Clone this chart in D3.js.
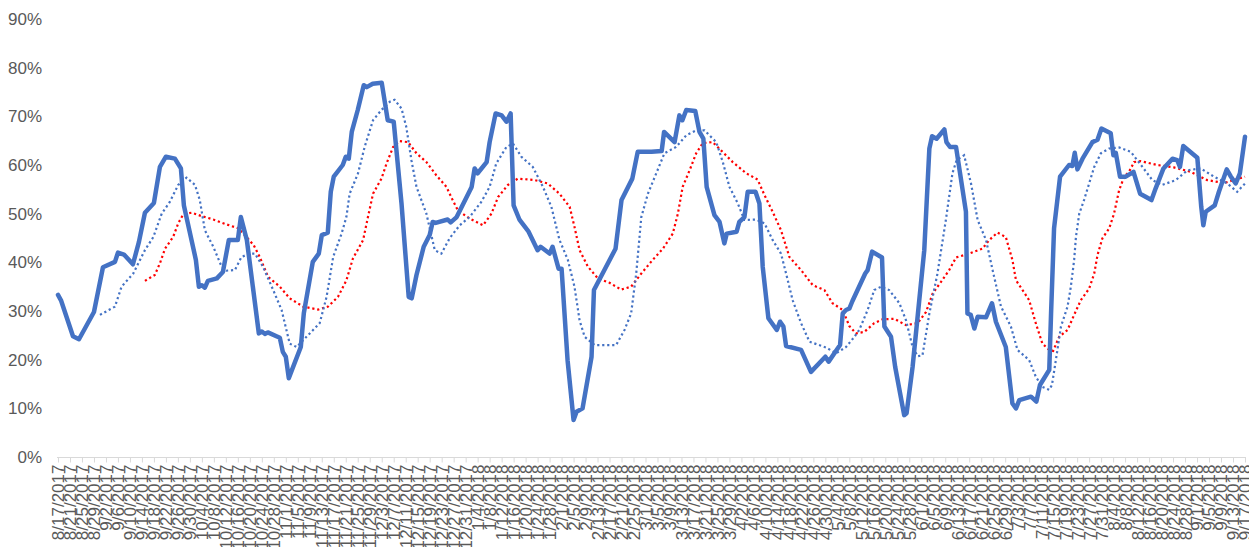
<!DOCTYPE html>
<html>
<head>
<meta charset="utf-8">
<script src="https://cdn.jsdelivr.net/npm/d3@7"></script>
<style>
  html, body { margin: 0; padding: 0; background: #fff; }
  svg { display: block; }
</style>
</head>
<body>
<svg id="chart" width="1249" height="547"></svg>
<script>
// ---------- DATA ----------
// x positions are day offsets from the first date (8/17/2017)
const tickLabels = [
  "8/17/2017","8/21/2017","8/25/2017","8/29/2017",
  "9/2/2017","9/6/2017","9/10/2017","9/14/2017","9/18/2017","9/22/2017","9/26/2017","9/30/2017",
  "10/4/2017","10/8/2017","10/12/2017","10/16/2017","10/20/2017","10/24/2017","10/28/2017",
  "11/1/2017","11/5/2017","11/9/2017","11/13/2017","11/17/2017","11/21/2017","11/25/2017","11/29/2017",
  "12/3/2017","12/7/2017","12/11/2017","12/15/2017","12/19/2017","12/23/2017","12/27/2017","12/31/2017",
  "1/4/2018","1/8/2018","1/12/2018","1/16/2018","1/20/2018","1/24/2018","1/28/2018",
  "2/1/2018","2/5/2018","2/9/2018","2/13/2018","2/17/2018","2/21/2018","2/25/2018",
  "3/1/2018","3/5/2018","3/9/2018","3/13/2018","3/17/2018","3/21/2018","3/25/2018","3/29/2018",
  "4/2/2018","4/6/2018","4/10/2018","4/14/2018","4/18/2018","4/22/2018","4/26/2018","4/30/2018",
  "5/4/2018","5/8/2018","5/12/2018","5/16/2018","5/20/2018","5/24/2018","5/28/2018",
  "6/1/2018","6/5/2018","6/9/2018","6/13/2018","6/17/2018","6/21/2018","6/25/2018","6/29/2018",
  "7/3/2018","7/7/2018","7/11/2018","7/15/2018","7/19/2018","7/23/2018","7/27/2018","7/31/2018",
  "8/4/2018","8/8/2018","8/12/2018","8/16/2018","8/20/2018","8/24/2018","8/28/2018",
  "9/1/2018","9/5/2018","9/9/2018","9/13/2018","9/17/2018"
];
const tickStepDays = 4;
const yTickValues = [0, 10, 20, 30, 40, 50, 60, 70, 80, 90];

const dailyDay = [0,1,5,7,12,15,19,20,22,25,27,29,32,34,36,39,41,42,46,47,48,49,50,53,55,57,60,61,63,
  67,68,69,70,74,75,76,77,81,82,85,87,88,90,91,92,95,96,97,98,100,102,103,105,108,110,112,114.6,117,118,119.6,
  122,124,125,126,130,131,133,138,139,140,143,144,146,148,149.6,151,152,154,157,160,161,164,165,167,168,
  170,172,173,175,178,178.8,186,188,191.6,193.4,194,198,201.4,202.2,205.7,207.3,208.3,209.6,212.6,214,215.3,216.4,
  219,220.7,222.3,223.1,226.4,227.3,229,230.1,232.7,234,235.1,237,239.8,240.9,242,242.9,247.9,251.2,256,257.1,
  260.9,261.8,262.9,264,265,269.3,270.1,271.6,274.9,275.7,277.9,279.3,282.3,283.1,285.1,289,290.7,291.6,293.1,
  295.7,296.4,297.6,299.6,302.9,303.4,304.5,305.7,306.8,309.6,311.6,312.9,316.2,318.4,319.6,320.7,324.6,326.4,
  327.6,330.7,331.3,332.3,334.3,337.3,338.4,339.2,340.1,341.8,345.1,346.8,348.1,351.2,352.1,352.9,354.3,356.2,
  358.8,361,364.8,366.2,368.8,371.8,373.4,374.3,375.4,380.1,381.4,382.1,382.9,385.9,387.3,389.9,391.2,392.9,
  394.3,396];
const dailyVal = [33.3,32.2,24.8,24.2,29.8,39.0,40.1,42.0,41.6,39.6,44.2,50.2,52.2,59.6,61.7,61.3,59.3,51.7,40.5,35.0,35.3,34.8,36.2,36.7,38.0,44.6,44.6,49.3,44.6,
  25.4,25.8,25.3,25.6,24.5,21.6,20.6,16.2,22.6,29.5,40.1,41.8,45.6,46.1,54.5,57.6,60.0,61.7,61.3,66.8,71.3,76.4,76.0,76.7,76.9,69.2,68.9,52.1,32.9,32.6,37.4,
  43.2,45.6,48.3,48.1,48.8,48.2,49.3,55.5,59.3,58.3,60.6,64.7,70.6,70.2,68.9,70.6,51.7,48.7,46.3,42.5,43.2,41.8,43.2,38.7,38.7,
  19.9,7.6,9.3,10.0,20.6,34.3,42.8,52.8,57.2,62.7,62.7,62.7,62.9,66.8,64.7,70.2,69.2,71.3,71.1,66.8,65.4,55.5,
  49.7,48.3,43.9,45.9,46.3,48.3,49.3,54.5,54.5,52.1,39.1,28.5,26.1,27.8,26.8,22.8,22.0,17.5,20.6,19.6,
  23.0,29.5,30.2,30.5,32.0,37.7,38.4,42.2,41.0,26.8,24.7,18.5,8.6,9.0,18.5,42.5,63.4,65.9,65.4,
  67.3,64.7,63.7,63.7,50.4,29.5,29.2,26.4,28.8,28.7,31.6,27.8,22.6,11.0,10.0,11.7,12.4,11.4,
  14.8,17.9,29.5,47.0,57.6,60.0,59.8,62.5,59.1,61.3,64.7,65.2,67.5,66.5,62.0,62.5,57.6,57.6,
  58.6,54.1,52.8,55.2,59.3,61.3,61.0,59.6,63.9,61.5,51.4,47.6,50.4,51.7,54.5,59.1,57.7,56.2,
  58.3,65.8];

const shortAvgDay = [14,19,21.2,25.1,26.8,29,31.8,34.6,37.3,40.1,42.9,45.7,47.3,49,51.8,54.6,56.2,59,61.2,64,65.7,68.4,71.8,74.6,77.3,79.6,
  82.9,87.3,89.6,91.8,94.6,96.2,97.3,100.1,102.3,105.1,107.9,110.7,112.3,114.6,116.2,117.9,119.6,122.9,125.7,127.9,130.7,134,137.3,141.2,
  144,146.2,149.6,151.8,154.6,158.4,161.8,164.6,167.3,170.1,172.3,174,175.7,179,186.2,189,191.2,192.9,194.6,196.8,199.6,202.3,206.2,209.6,
  212.9,215.7,219.6,221.8,224,226.8,229,232.9,235.7,238.4,241.2,242.9,245.1,247.9,250.7,256.2,259.6,262.9,265.7,267.3,270.1,272.3,274.6,
  277.3,280.7,282.9,285.1,286.8,288.4,290.7,293.4,296.2,298.4,299.8,302.3,304.6,306.8,309.6,311.8,314.6,317.9,320.1,324,326.2,328.4,330.7,
  331.6,332.9,334.6,336.8,337.9,339,339.6,340.7,342.3,344,345.7,347.9,350.7,354,357.9,361.8,365.1,368.4,372.9,376.8,381.2,385.7,390.1,393.4,396];
const shortAvgVal = [29.2,30.9,35,37.7,39.8,42.5,45.2,50,52.4,55.9,57.4,55.9,52.8,46.6,43.2,39.1,38.3,38.4,41.1,41.8,41.8,39.1,34.3,30.2,23.3,22.6,
  24.7,27.5,32.9,41.1,45.9,49.3,54.1,58.3,63.7,69.2,71.3,73,73.4,71.6,67.8,61,55.5,50,42.5,41.8,45,47.6,49.3,52.4,
  55.5,60.3,63.7,64.4,61.7,59.6,55.5,51.4,44.6,40.5,35,28.1,24.7,23,23,26.1,29.5,37.7,49.3,54.1,58.3,62.4,63.7,66.1,
  67.1,67.1,64.7,60.6,55.5,52.1,48.7,48.8,48,44.6,41.8,37.7,32.2,27.5,23.7,22.5,21.3,22.6,24.7,26.1,30.2,34.3,35,
  34.3,31.6,28.1,22.6,20.7,20.9,29.5,37.7,48.7,58.3,61,62,56.2,48.7,44.6,38.4,30.9,26.8,22,19.9,16.5,14.4,13.8,
  14.8,19.9,26.8,30.9,35,40.5,45.2,50,52.8,56.2,59.6,62.4,63.4,63.6,62.7,59.6,56.9,55.9,56.9,58.9,59.3,57.6,56.2,54.5,56.2];

const longAvgDay = [29,32.3,34,35.7,38.4,40.1,41.8,44.6,47.9,51.8,56.2,60.1,62.9,65.3,67.3,70.1,74,77.3,81.8,86.8,90.1,93.4,96.2,98.4,
  101.8,103.4,105.1,107.9,109.6,111.8,114,116.8,119.6,122.9,126.2,129.6,131.5,133.4,137.3,141.8,144.6,146.8,150.1,153.4,159,163.4,167.3,
  170.7,172.3,174,176.8,180.1,184,187.9,191.2,194.6,198.4,201.8,205.1,206.8,208.4,210.7,212.9,215.1,218.4,221.2,225.1,229.6,233.4,235.7,
  238.4,241.2,244,247.9,251.8,255.7,258.4,261.8,264,266.2,269,272.3,275.1,279,282.9,286.8,289.6,291.8,294.6,297.3,299.6,304,308.4,310.7,
  313.4,316.2,318.4,319.6,321.8,324,326.2,328.4,330.7,332,334,336.8,339,341.2,344,345.7,346.8,348.4,350.7,352.3,354,355.7,357.3,359,
  361.2,366.8,372.3,377.9,383.4,389,392.3,396];
const longAvgVal = [36.2,37.4,39.8,42.8,45.2,48,49.9,50.2,49.5,48.8,47.8,47,45.2,43.5,41.1,37,35,32.6,30.9,30.3,30.9,32.9,36.3,40.8,
  44.6,49.3,54.1,57.2,60.3,63.7,64.9,64.7,62.4,60.6,57.9,55.5,53,50.7,49,47.6,50,53.4,55.9,57.2,56.9,56.2,54.1,
  51.4,47.3,42.5,39.1,36.7,35.8,34.4,35,37.7,40.5,42.8,45.9,50,55.5,58.9,62.4,64.5,64.7,63,60.6,58.3,57,53.8,
  50.4,46.6,41.1,38.4,35.3,34.3,31.6,30.2,26.9,25.4,25.7,27.5,28.3,28.4,27.1,27.5,29.8,33.6,36,38.4,41,41.8,42.8,44.6,
  46.1,45.2,40.5,36.3,34.3,32.2,27.5,23.3,22,21.8,24.7,26.1,29.2,32.2,34.6,37.7,41.5,44.9,47,50,54.8,57.6,58.6,60.6,
  60.8,60,59.5,58.6,56.9,56.3,56.9,57.6];

// ---------- CHART ----------
const svg = d3.select("#chart");
const font = "'Liberation Sans', Arial, sans-serif";
const totalDays = (tickLabels.length - 1) * tickStepDays;

const x = d3.scaleLinear().domain([0, totalDays]).range([58, 1245]);
const y = d3.scaleLinear().domain([0, 90]).range([457, 19]);

// y-axis labels (no axis line, no gridlines)
const yAxis = d3.axisLeft(y).tickValues(yTickValues).tickFormat(d => d + "%").tickSize(0).tickPadding(0);
const gy = svg.append("g").attr("transform", "translate(42,0)").call(yAxis);
gy.select(".domain").remove();
gy.selectAll("text")
  .attr("font-family", font).attr("font-size", 17).attr("fill", "#595959");

// x-axis
const tickDays = tickLabels.map((_, i) => i * tickStepDays);
const xAxis = d3.axisBottom(x).tickValues(tickDays)
  .tickFormat((d, i) => tickLabels[i]).tickSize(5).tickSizeOuter(0).tickPadding(6);
const gx = svg.append("g").attr("transform", "translate(0,457.5)").call(xAxis);
gx.select(".domain").attr("stroke", "#d9d9d9").attr("d", `M${x(0) - 1},0H${x(totalDays) + 1}`);
gx.selectAll(".tick line").attr("stroke", "#d9d9d9");
gx.selectAll(".tick text")
  .attr("font-family", font).attr("font-size", 17).attr("fill", "#595959")
  .attr("transform", "rotate(-90)")
  .attr("text-anchor", "end")
  .attr("x", -7).attr("y", 0).attr("dy", "0.35em");

// lines
const mkLine = d3.line().x(d => x(d[0])).y(d => y(d[1]));
const zipSeries = (days, vals) => days.map((d, i) => [d, vals[i]]);

svg.append("path").datum(zipSeries(longAvgDay, longAvgVal))
  .attr("d", mkLine).attr("fill", "none")
  .attr("stroke", "#ff0000").attr("stroke-width", 2.2).attr("stroke-dasharray", "2.2 2.8");

svg.append("path").datum(zipSeries(shortAvgDay, shortAvgVal))
  .attr("d", mkLine).attr("fill", "none")
  .attr("stroke", "#4472c4").attr("stroke-width", 2.2).attr("stroke-dasharray", "2.2 2.8");

svg.append("path").datum(zipSeries(dailyDay, dailyVal))
  .attr("d", mkLine).attr("fill", "none")
  .attr("stroke", "#4472c4").attr("stroke-width", 4.5)
  .attr("stroke-linejoin", "round").attr("stroke-linecap", "round");
</script>
</body>
</html>
